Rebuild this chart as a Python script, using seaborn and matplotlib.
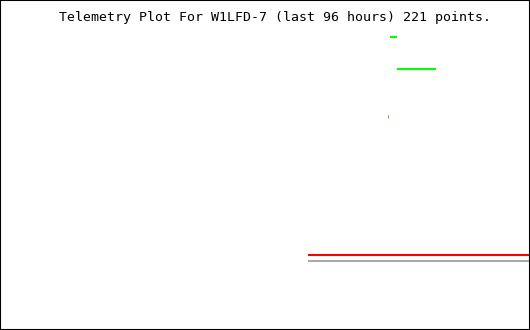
import matplotlib
matplotlib.use("Agg")
import matplotlib.pyplot as plt
import seaborn as sns
import pandas as pd

# hours within the last-96-hour window, telemetry values (arbitrary units)
red_hours = [55.8, 96.0]
red_vals = [75.0, 75.0]
gray_hours = [55.8, 96.0]
gray_vals = [69.0, 69.0]
green_a_hours = [70.6, 71.9]
green_a_vals = [293.0, 293.0]
green_b_hours = [71.9, 78.9]
green_b_vals = [261.0, 261.0]
green_dot_hours = [70.19, 70.19]
green_dot_vals = [212.0, 215.0]

title = "Telemetry Plot For W1LFD-7 (last 96 hours) 221 points."

sns.set_theme(style="white")
fig = plt.figure(figsize=(5.3, 3.3), dpi=100)
ax = fig.add_axes([0, 0, 1, 1])
ax.set_facecolor("white")

lw = 1.5
kw = dict(ax=ax, solid_capstyle="butt", estimator=None, sort=False)
sns.lineplot(x=gray_hours, y=gray_vals, color="#aaaaaa", linewidth=lw, **kw)
sns.lineplot(x=red_hours, y=red_vals, color="#ff0000", linewidth=lw, **kw)
sns.lineplot(x=green_a_hours, y=green_a_vals, color="#00ff00", linewidth=lw, **kw)
sns.lineplot(x=green_b_hours, y=green_b_vals, color="#00ff00", linewidth=lw, **kw)
sns.lineplot(x=green_dot_hours, y=green_dot_vals, color="#22cc22", linewidth=0.72, **kw)

ax.set_xlim(0, 96)
ax.set_ylim(0, 330)
ax.set_xticks([])
ax.set_yticks([])
ax.set_xlabel("")
ax.set_ylabel("")
for s in ax.spines.values():
    s.set_visible(True)
    s.set_color("black")
    s.set_linewidth(1.5)

fig.text(275 / 530, 1 - 17 / 330, title, ha="center", va="center",
         family="DejaVu Sans Mono", fontsize=9.5, color="black")

fig.savefig("out.png", dpi=100)
